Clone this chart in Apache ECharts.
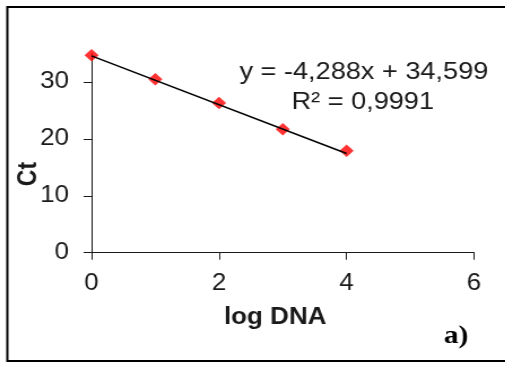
<!DOCTYPE html>
<html>
<head>
<meta charset="utf-8">
<script src="https://cdn.jsdelivr.net/npm/echarts@6/dist/echarts.min.js"></script>
<style>
  html, body { margin: 0; padding: 0; background: #fff; overflow: hidden; }
  /* the source figure is stretched sideways, so the whole chart is stretched too */
  #chart { width: 447px; height: 365px; transform: scaleX(1.13); transform-origin: 0 0; }
</style>
</head>
<body>
<div id="chart"></div>
<script>
// measured points (log DNA, Ct)
const logDNA = [0, 1, 2, 3, 4];
const ct = [34.7, 30.5, 26.3, 21.7, 17.9];

// trendline ends, y = -4,288x + 34,599
const trendX = [0, 4];
const trendY = [34.599, 17.447];

const xTicks = [0, 2, 4, 6];
const yTicks = [0, 10, 20, 30];

const eqLine1 = 'y = -4,288x + 34,599';
const eqLine2 = 'R² = 0,9991';

const FONT = '"Liberation Sans", Arial, sans-serif';
const AXIS_COLOR = '#1a1a1a';

const chart = echarts.init(document.getElementById('chart'), null, { renderer: 'canvas' });

const option = {
    backgroundColor: '#fff',
    animation: false,
    grid: { left: 81, right: 27.5, top: 53.6, bottom: 112.3 },
    xAxis: {
        type: 'value',
        min: 0,
        max: 6,
        interval: 2,
        axisLine: { show: true, lineStyle: { color: AXIS_COLOR, width: 1 } },
        axisTick: { show: true, length: 7, lineStyle: { color: AXIS_COLOR } },
        axisLabel: {
            margin: 19,
            color: AXIS_COLOR,
            fontFamily: FONT,
            fontSize: 23,
            formatter: v => xTicks.includes(v) ? String(v) : ''
        },
        splitLine: { show: false }
    },
    yAxis: {
        type: 'value',
        min: 0,
        max: 35,
        axisLine: { show: true, onZero: false, lineStyle: { color: AXIS_COLOR, width: 1 } },
        axisTick: { show: true, length: 7, customValues: yTicks, lineStyle: { color: AXIS_COLOR } },
        axisLabel: {
            margin: 20,
            color: AXIS_COLOR,
            fontFamily: FONT,
            fontSize: 23,
            customValues: yTicks
        },
        splitLine: { show: false }
    },
    series: [
        {
            name: 'Ct',
            type: 'scatter',
            symbol: 'diamond',
            symbolSize: 12.5,
            itemStyle: { color: '#ff0000' },
            data: logDNA.map((x, i) => [x, ct[i]]),
            z: 2
        },
        {
            name: 'trend',
            type: 'line',
            showSymbol: false,
            symbol: 'none',
            lineStyle: { color: '#000', width: 1.6 },
            data: trendX.map((x, i) => [x, trendY[i]]),
            z: 3
        }
    ],
    graphic: [
        // frame round the figure
        {
            type: 'rect',
            shape: { x: 6.5, y: 7, width: 460, height: 354 },
            style: { fill: 'none', stroke: '#000', lineWidth: 2 },
            silent: true
        },
        {
            type: 'text',
            x: 322, y: 72,
            style: { text: eqLine1, font: '24px ' + FONT, fill: '#1a1a1a', align: 'center', verticalAlign: 'middle' }
        },
        {
            type: 'text',
            x: 321, y: 102,
            style: { text: eqLine2, font: '24px ' + FONT, fill: '#1a1a1a', align: 'center', verticalAlign: 'middle' }
        },
        {
            type: 'text',
            x: 25.5, y: 174,
            rotation: Math.PI / 2,
            style: { text: 'Ct', font: 'bold 23px ' + FONT, fill: '#1a1a1a', align: 'center', verticalAlign: 'middle' }
        },
        {
            type: 'text',
            x: 243.5, y: 318,
            style: { text: 'log DNA', font: 'bold 23px ' + FONT, fill: '#1a1a1a', align: 'center', verticalAlign: 'middle' }
        },
        {
            type: 'text',
            x: 403.5, y: 336,
            style: { text: 'a)', font: 'bold 26px "Liberation Serif", "Times New Roman", serif', fill: '#000', align: 'center', verticalAlign: 'middle' }
        }
    ]
};

chart.setOption(option);
</script>
</body>
</html>
